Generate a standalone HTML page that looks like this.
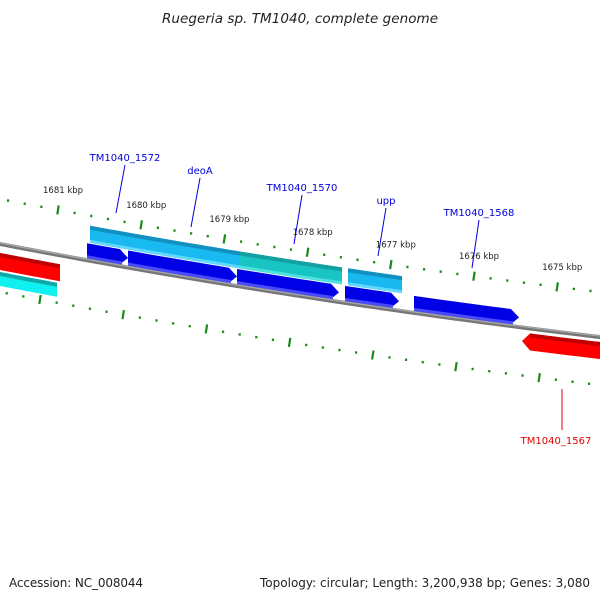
<!DOCTYPE html>
<html><head><meta charset="utf-8"><style>
body{margin:0;background:#fff}
svg{display:block;font-family:"DejaVu Sans","Liberation Sans",sans-serif}
</style></head><body>
<svg id="c" width="600" height="600">
<text x="300" y="23" text-anchor="middle" font-size="13.5" font-style="italic" fill="#222" textLength="276">Ruegeria sp. TM1040, complete genome</text>
<text x="9" y="587" font-size="12" fill="#222" textLength="134">Accession: NC_008044</text>
<text x="590" y="587" text-anchor="end" font-size="12" fill="#222" textLength="330">Topology: circular; Length: 3,200,938 bp; Genes: 3,080</text>
<g id="g"></g>
</svg>
<script>
const tickKbp=[1681,1680,1679,1678,1677,1676,1675];
const geneNames=["TM1040_1572","deoA","TM1040_1570","upp","TM1040_1568","TM1040_1567"];
const geneStart=[90,131,240,348,414,522];
const geneEnd=[131,240,342,402,519,600];
const geneColors=["#1ab8f0","#19b9f2","#18c4c4","#1ab8f0","#0000ee","#ff0000"];
const kbpToX=k=>58+(1681-k)*83.2;
const curve=x=>244+0.1917*x-0.000061*x*x;
const ns="http://www.w3.org/2000/svg",G=document.getElementById('g');
function el(t,a,p){const e=document.createElementNS(ns,t);for(const k in a)e.setAttribute(k,a[k]);(p||G).appendChild(e);return e;}
function band(x1,x2,o1,o2,fill,arrow){
  const pts=[];const n=10;
  const a1=arrow===-1?x1+8:x1, a2=arrow===1?x2-8:x2;
  for(let i=0;i<=n;i++){const x=a1+(a2-a1)*i/n;pts.push([x,curve(x)+o1]);}
  if(arrow===1)pts.push([x2,curve(x2)+(o1+o2)/2]);
  for(let i=n;i>=0;i--){const x=a1+(a2-a1)*i/n;pts.push([x,curve(x)+o2]);}
  if(arrow===-1)pts.push([x1,curve(x1)+(o1+o2)/2]);
  return el('polygon',{points:pts.map(p=>p.join(',')).join(' '),fill:fill});
}
let d='';for(let x=-5;x<=605;x+=10)d+=(x<0?'M':'L')+x+','+curve(x);
let b=el('path',{d:d,stroke:'#777',"stroke-width":4,fill:'none'});

b=el('path',{d:d,stroke:'#aaa',"stroke-width":1.2,fill:'none',transform:'translate(0,-1)'});

for(let k=1682;k>=1674;k-=0.2){
  const kr=Math.round(k*5)/5;const major=Math.abs(kr-Math.round(kr))<0.01;
  [[-45,0],[48,-18]].forEach(([off,sh])=>{
    const x=kbpToX(kr)+sh;if(x<-5||x>605)return;const y=curve(x)+off;
    const t=el('line',{x1:x+(major?0.7:0),y1:y-(major?4.5:1.2),x2:x-(major?0.7:0),y2:y+(major?4.5:1.2),stroke:'#1a8a1a',"stroke-width":2.2});
    
  });
}
tickKbp.forEach(k=>{const x=kbpToX(k);const t=el('text',{x:x-15,y:curve(x)-62,"font-size":8.5,fill:'#222'});t.textContent=k+' kbp';
  });
for(let i=0;i<4;i++){
  const p=band(geneStart[i],geneEnd[i],-35,-18,geneColors[i],0);
  
  const s=band(geneStart[i],geneEnd[i],-35,-31,i==2?'#12a0a0':'#1290c0',0);
  
  const h=band(geneStart[i],geneEnd[i],-21,-18,i==2?'#50e0e0':'#60d8ff',0);
  
}
const cdsS=[87,128,237,345,414],cdsE=[128,237,339,399,519];
for(let i=0;i<cdsS.length;i++){
  const p=band(cdsS[i],cdsE[i],-17,-2,'#0000e6',1);
  
  const h=band(cdsS[i],cdsE[i]-6,-5,-2,'#4a4aff',0);
  
}
let r=band(geneStart[5],geneEnd[5],5,22,'#ff0000',-1);
r=band(geneStart[5]+8,geneEnd[5],5,9,'#c00000',0);
r=band(-5,60,9,26,'#ff0000',0);
r=band(-5,60,9,13,'#c00000',0);
r=band(-5,57,28,42,'#10f0f0',0);
r=band(-5,57,28,32,'#10a8a8',0);
const lab=[[125,158,116,213],[200,171,191,227],[302,188,294,244],[386,201,378,256],[479,213,472,268],[556,441,562,389]];
lab.forEach((l,i)=>{
  const red=i==5,c=red?'#e00000':'#0000dd';
  const ln=el('line',{x1:l[0]-(red?-6:0),y1:red?l[1]-11:l[1]+7,x2:l[2],y2:l[3],stroke:c,"stroke-width":1});
  
  const t=el('text',{x:l[0],y:l[1]+3,"text-anchor":"middle","font-size":10,fill:c});t.textContent=geneNames[i];
  
});
</script>
</body></html>
